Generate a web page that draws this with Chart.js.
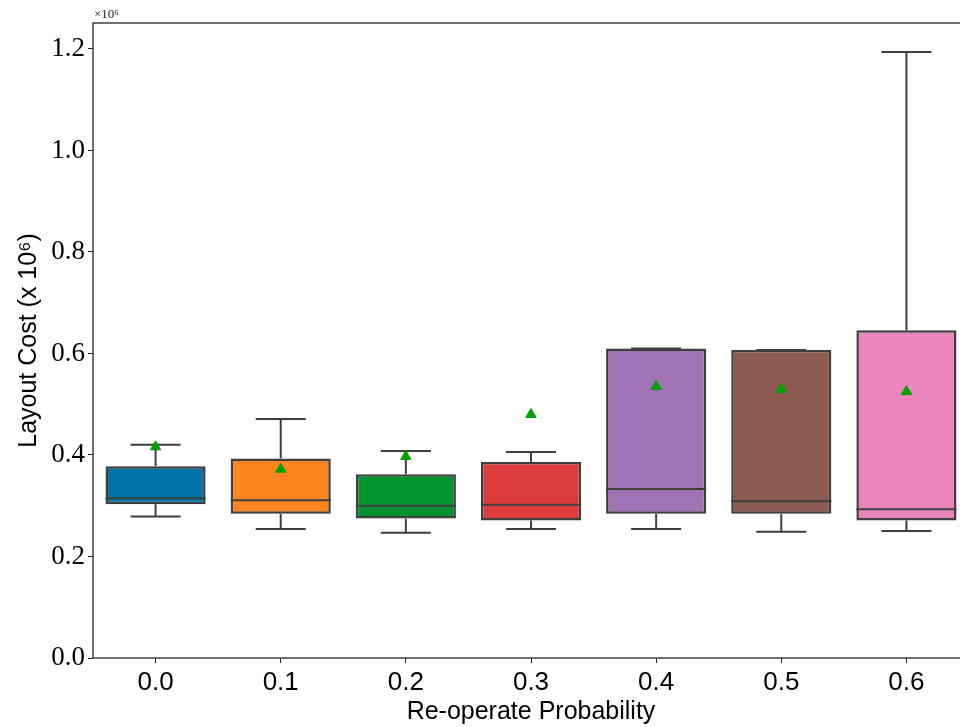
<!DOCTYPE html>
<html>
<head>
<meta charset="utf-8">
<script src="https://cdn.jsdelivr.net/npm/chart.js@4.4.0/dist/chart.umd.min.js"></script>
<style>
  html, body { margin: 0; padding: 0; background: #fff; overflow: hidden; }
  #wrap { width: 976px; height: 727px; }
</style>
</head>
<body>
<div id="wrap"><canvas id="boxChart" width="976" height="727"></canvas></div>
<script>
// box plot summary per re-operate probability (values in units of 1e6)
const categories = ['0.0', '0.1', '0.2', '0.3', '0.4', '0.5', '0.6'];
const whiskerLow = [0.279, 0.254, 0.247, 0.254, 0.254, 0.249, 0.250];
const q1 = [0.303, 0.284, 0.275, 0.271, 0.284, 0.284, 0.271];
const medians = [0.315, 0.311, 0.300, 0.302, 0.333, 0.309, 0.293];
const q3 = [0.378, 0.393, 0.362, 0.386, 0.610, 0.607, 0.646];
const whiskerHigh = [0.420, 0.471, 0.408, 0.406, 0.610, 0.607, 1.194];
const means = [0.416, 0.372, 0.397, 0.480, 0.535, 0.529, 0.525];
const boxColors = ['#0173a5', '#fd8520', '#019330', '#dc3c3c', '#a074b4', '#8c5a50', '#ea85be'];
const yTicks = [0, 0.2, 0.4, 0.6, 0.8, 1.0, 1.2];

const lineColor = '#3f3f3f';

const boxPlotLines = {
  id: 'boxPlotLines',
  afterDatasetDraw(chart, args) {
    if (args.index !== 0) return;
    const ctx = chart.ctx;
    const y = chart.scales.y;
    ctx.save();
    ctx.strokeStyle = lineColor;
    ctx.lineWidth = 2;
    args.meta.data.forEach((bar, i) => {
      const cx = bar.x;
      const half = bar.width / 2;
      const cap = half / 2;
      const yLo = y.getPixelForValue(whiskerLow[i]);
      const yQ1 = y.getPixelForValue(q1[i]);
      const yMed = y.getPixelForValue(medians[i]);
      const yQ3 = y.getPixelForValue(q3[i]);
      const yHi = y.getPixelForValue(whiskerHigh[i]);
      ctx.beginPath();
      // whiskers
      ctx.moveTo(cx, yQ1); ctx.lineTo(cx, yLo);
      ctx.moveTo(cx, yQ3); ctx.lineTo(cx, yHi);
      // caps
      ctx.moveTo(cx - cap, yLo); ctx.lineTo(cx + cap, yLo);
      ctx.moveTo(cx - cap, yHi); ctx.lineTo(cx + cap, yHi);
      // median
      ctx.moveTo(cx - half, yMed); ctx.lineTo(cx + half, yMed);
      ctx.stroke();
    });
    ctx.restore();
  },
  afterDraw(chart) {
    const ctx = chart.ctx;
    const a = chart.chartArea;
    ctx.save();
    ctx.strokeStyle = '#262626';
    ctx.lineWidth = 1.3;
    ctx.strokeRect(a.left, a.top, a.right - a.left, a.bottom - a.top);
    ctx.fillStyle = '#222';
    ctx.font = '13px "Liberation Serif"';
    ctx.textBaseline = 'bottom';
    ctx.fillText('\u00d710\u2076', a.left + 1, a.top - 2);
    ctx.restore();
  }
};

new Chart(document.getElementById('boxChart').getContext('2d'), {
  type: 'bar',
  data: {
    labels: categories,
    datasets: [{
      label: 'Layout Cost',
      data: categories.map((c, i) => [q1[i], q3[i]]),
      backgroundColor: boxColors,
      borderColor: lineColor,
      borderWidth: 2.5,
      borderSkipped: false,
      barPercentage: 0.8,
      categoryPercentage: 1.0,
      order: 2
    }, {
      type: 'line',
      label: 'Mean',
      data: means,
      showLine: false,
      pointStyle: 'triangle',
      pointRadius: 6,
      backgroundColor: '#00a000',
      borderColor: '#00a000',
      borderWidth: 1,
      order: 1
    }]
  },
  options: {
    responsive: false,
    animation: false,
    devicePixelRatio: 1,
    layout: { padding: { left: 1, right: 4, top: 23, bottom: 0 } },
    plugins: {
      legend: { display: false },
      tooltip: { enabled: false }
    },
    scales: {
      x: {
        offset: true,
        afterFit: s => { s.height = 69; },
        border: { display: false },
        grid: { display: true, drawOnChartArea: false, tickLength: 5, tickColor: '#262626', offset: false },
        ticks: { color: '#000', padding: 4, font: { family: 'Liberation Sans', size: 26 } },
        title: {
          display: true,
          text: 'Re-operate Probability',
          color: '#000',
          padding: { top: 0, bottom: 0 },
          font: { family: 'Liberation Sans', size: 25 }
        }
      },
      y: {
        min: 0,
        max: 1.2512,
        afterFit: s => { s.width = 92; },
        afterBuildTicks: s => { s.ticks = yTicks.map(v => ({ value: v })); },
        border: { display: false },
        grid: { display: true, drawOnChartArea: false, tickLength: 5, tickColor: '#262626' },
        ticks: {
          color: '#000',
          padding: 3,
          font: { family: 'Liberation Serif', size: 27 },
          callback: v => v.toFixed(1)
        },
        title: {
          display: true,
          text: 'Layout Cost (x 10\u2076)',
          color: '#000',
          padding: { top: 13, bottom: 4 },
          font: { family: 'Liberation Sans', size: 25 }
        }
      }
    }
  },
  plugins: [boxPlotLines]
});
</script>
</body>
</html>
